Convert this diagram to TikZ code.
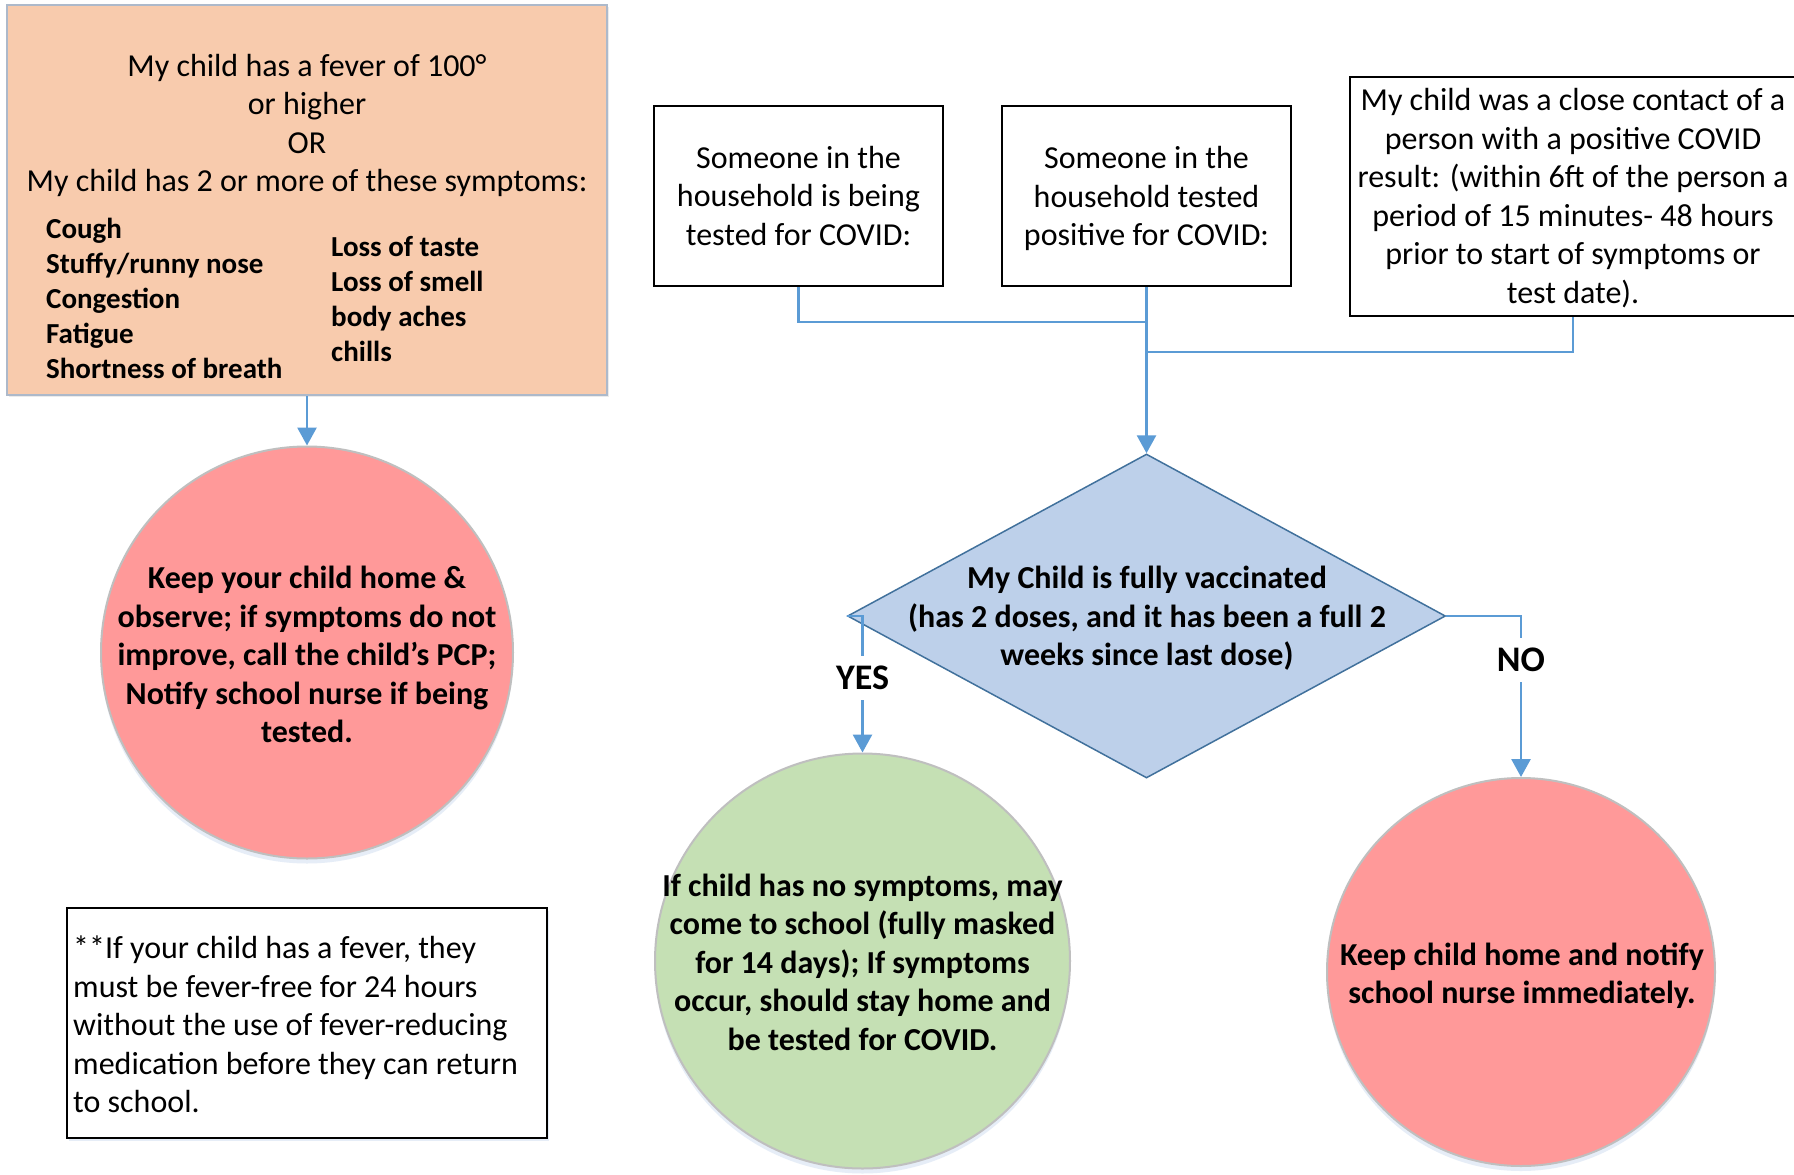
\documentclass[tikz,border=0pt]{standalone}
\usepackage{fontspec}
\setmainfont{Carlito}
\usetikzlibrary{shapes.geometric,arrows.meta,shadows}
\definecolor{orfill}{HTML}{F8CBAD}
\definecolor{orborder}{HTML}{ADB9CA}
\definecolor{connblue}{HTML}{5B9BD5}
\definecolor{diafill}{HTML}{BDD0EA}
\definecolor{diaborder}{HTML}{41719C}
\definecolor{greenfill}{HTML}{C5E0B4}
\definecolor{redfill}{HTML}{FF9999}
\definecolor{cborder}{HTML}{BFBFBF}
\definecolor{shblue}{HTML}{D6E2F2}
\begin{document}
\begin{tikzpicture}[x=1pt,y=-1pt,
  body/.style={font=\fontsize{32}{38.5}\selectfont, align=center, inner sep=0pt},
  boldbody/.style={font=\fontsize{32}{38.5}\selectfont\bfseries, align=center, inner sep=0pt},
  sym/.style={font=\fontsize{29}{35}\selectfont\bfseries, align=left, inner sep=0pt},
  lab/.style={font=\fontsize{36}{40}\selectfont\bfseries, fill=white, inner xsep=2pt, inner ysep=10pt},
  rbox/.style={draw=black, line width=2.8pt, rectangle},
  conn/.style={draw=connblue, line width=2.8pt},
  arr/.style={conn, -{Triangle[width=19pt,length=18pt]}},
  bubble/.style={circle, draw=cborder, line width=2pt, inner sep=0pt,
    drop shadow={shadow xshift=0pt, shadow yshift=-5pt, fill=shblue, opacity=0.6}},
]
\useasboundingbox[fill=white] (0,0) rectangle (1794,1175);

% orange box
\node[rectangle, fill=orfill, draw=orborder, line width=2pt, minimum width=600pt, minimum height=390pt,
  drop shadow={shadow xshift=2pt, shadow yshift=-2pt, fill=black!15, opacity=0.5}] (ob) at (307,200) {};
\node[body] (obt) at (307,125.5) {My child has a fever of 100°\\or higher\\OR\\My child has 2 or more of these symptoms:};
\node[sym, anchor=west] (syl) at (46,298) {Cough\\Stuffy/runny nose\\Congestion\\Fatigue\\Shortness of breath};
\node[sym, anchor=west] (syr) at (331,299) {Loss of taste\\Loss of smell\\body aches\\chills};

% top boxes
\node[rbox, body, minimum width=289pt, minimum height=180pt] (b2) at (798.5,196) {Someone in the\\household is being\\tested for COVID:};
\node[rbox, minimum width=289pt, minimum height=180pt] (b3) at (1146.5,196) {};
\node[body] (b3t) at (1146.5,198.5) {Someone in the\\household tested\\positive for COVID:};
\node[rbox, minimum width=446pt, minimum height=239pt] (b4) at (1573,196.5) {};
\node[body] (b4t) at (1573,198) {My child was a close contact of a\\person with a positive COVID\\result: (within 6ft of the person a\\period of 15 minutes- 48 hours\\prior to start of symptoms or\\test date).};

% diamond
\node[diamond, draw=diaborder, fill=diafill, line width=1.5pt, minimum width=598pt, minimum height=324pt, inner sep=0pt] (dia) at (1146.5,616) {};
\node[boldbody] (diat) at (1147,618.5) {My Child is fully vaccinated\\(has 2 doses, and it has been a full 2\\weeks since last dose)};

% circles
\node[bubble, fill=redfill, minimum size=412pt] (lc) at (307,652.5) {};
\node[boldbody] (lct) at (307,654.5) {Keep your child home \&\\observe; if symptoms do not\\improve, call the child’s PCP;\\Notify school nurse if being\\tested.};
\node[bubble, fill=greenfill, minimum size=415pt] (gc) at (862.5,961) {};
\node[boldbody] (gct) at (862.5,962) {If child has no symptoms, may\\come to school (fully masked\\for 14 days); If symptoms\\occur, should stay home and\\be tested for COVID.};
\node[bubble, fill=redfill, minimum size=388pt] (rc) at (1521,972) {};
\node[boldbody] (rct) at (1522,976) {Keep child home and notify\\school nurse immediately.};

% footnote
\node[rbox, line width=2pt, minimum width=480pt, minimum height=230pt,
  drop shadow={shadow xshift=2pt, shadow yshift=-3pt, fill=shblue, opacity=0.6}, fill=white] (fn) at (307,1023) {};
\node[body, align=left, anchor=west] (fnt) at (73,1024.5) {**If your child has a fever, they\\must be fever-free for 24 hours\\without the use of fever-reducing\\medication before they can return\\to school.};

% connectors
\coordinate (j1) at (1146.5,322);
\coordinate (j2) at (1146.5,352);
\draw[conn] (b2.south) |- (j1);
\draw[conn] (b4.south) |- (j2);
\draw[arr] (b3.south) -- (dia.north);
\draw[arr] (ob.south) -- (lc.north);
\draw[arr] (dia.west) -| (gc.north);
\draw[arr] (dia.east) -| (rc.north);
\node[lab] (yes) at (862.5,678) {YES};
\node[lab] (no) at (1521,660) {NO};
\end{tikzpicture}
\end{document}
